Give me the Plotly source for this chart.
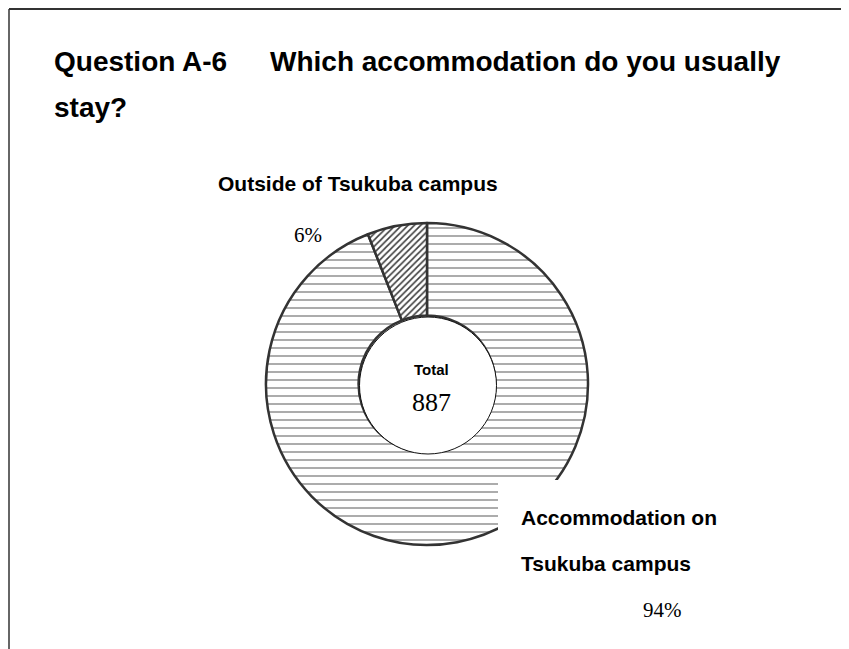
import plotly.graph_objects as go

# page offset: browser body margin is 8px, figure fills the rest of the 849x649 window
OFF = 8
W, H = 849 - OFF, 649 - OFF

# ---- data ----
title_part1 = "Question A-6"
title_part2 = "Which accommodation do you usually"
title_part3 = "stay?"
categories = ["Accommodation on Tsukuba campus", "Outside of Tsukuba campus"]
counts = [834, 53]
total = sum(counts)
percent_labels = [f"{round(100 * c / total)}%" for c in counts]


def px(x):
    return (x - OFF) / W


def py(y):
    return 1 - (y - OFF) / H


fig = go.Figure()

fig.add_trace(go.Pie(
    labels=categories,
    values=counts,
    sort=False,
    direction="clockwise",
    rotation=0,
    hole=0.425,
    textinfo="none",
    hoverinfo="skip",
    showlegend=False,
    marker=dict(
        colors=["white", "white"],
        line=dict(color="#333333", width=2.5),
        pattern=dict(
            shape=["-", "/"],
            fgcolor=["#acacac", "#3c3c3c"],
            bgcolor=["white", "white"],
            size=[8, 4.5],
            solidity=[0.25, 0.35],
        ),
    ),
    domain=dict(x=[px(266), px(588)], y=[py(545), py(223)]),
))

# inner circle holding the total
fig.add_trace(go.Pie(
    labels=["Total"],
    values=[total],
    sort=False,
    textinfo="none",
    hoverinfo="skip",
    showlegend=False,
    marker=dict(colors=["white"], line=dict(color="#111111", width=1)),
    domain=dict(x=[px(359.5), px(496.5)], y=[py(454), py(317)]),
))

shapes = [
    # white box behind the lower-right label
    dict(type="rect", xref="paper", yref="paper", x0=px(498), x1=px(640), y0=py(600), y1=py(480),
         fillcolor="white", line=dict(width=0), layer="above"),
    # frame lines
    dict(type="line", xref="paper", yref="paper", x0=px(9), x1=1, y0=py(9), y1=py(9),
         line=dict(color="#333333", width=2)),
    dict(type="line", xref="paper", yref="paper", x0=px(9), x1=px(9), y0=py(9), y1=0,
         line=dict(color="#333333", width=1.5)),
]

sans = "Liberation Sans, Arial, sans-serif"
serif = "Liberation Serif, Times New Roman, serif"


def ann(text, x, y, size, family, xanchor="left"):
    return dict(text=text, x=px(x), y=py(y), xref="paper", yref="paper",
                xanchor=xanchor, yanchor="middle", showarrow=False,
                font=dict(family=family, size=size, color="black"))


annotations = [
    ann(f"<b>{title_part1}</b>", 52, 61.5, 28, sans),
    ann(f"<b>{title_part2}</b>", 268, 61.5, 28, sans),
    ann(f"<b>{title_part3}</b>", 52, 107, 28, sans),
    ann(f"<b>{categories[1]}</b>", 216, 183.5, 21, sans),
    ann(percent_labels[1], 308, 235, 21, serif, "center"),
    ann("<b>Accommodation on</b>", 519, 517, 21, sans),
    ann("<b>Tsukuba campus</b>", 519, 563, 21, sans),
    ann(percent_labels[0], 662, 610, 21, serif, "center"),
    ann("<b>Total</b>", 431, 369, 15, sans, "center"),
    ann(f"{total}", 431, 402, 26, serif, "center"),
]

fig.update_layout(
    width=W, height=H,
    margin=dict(l=0, r=0, t=0, b=0),
    paper_bgcolor="white",
    plot_bgcolor="white",
    shapes=shapes,
    annotations=annotations,
    showlegend=False,
)

fig.write_html("out.html")
